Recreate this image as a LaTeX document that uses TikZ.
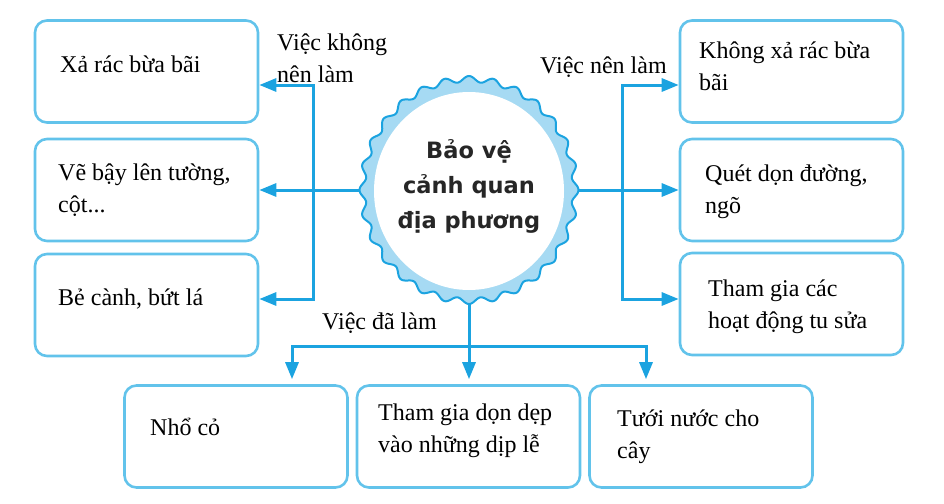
\documentclass[tikz,border=0pt]{standalone}
\usepackage{fontspec}
\setmainfont{Liberation Serif}
\newfontfamily\circfont{DejaVu Sans}
\usetikzlibrary{arrows.meta}
\definecolor{boxblue}{HTML}{62C3EB}
\definecolor{arrblue}{HTML}{1BA3E0}
\definecolor{bandblue}{HTML}{A6DAF3}
\tikzset{
  box/.style={draw=boxblue, line width=2.6pt, rounded corners=12pt, minimum width=223pt, minimum height=102pt, fill=white, inner sep=0pt},
  txt/.style={anchor=base west, align=left, font=\fontsize{24}{32}\selectfont, inner sep=0pt},
  ctxt/.style={anchor=base, align=center, font=\circfont\bfseries\fontsize{22.5}{35}\selectfont, text=black!85, inner sep=0pt},
  conn/.style={draw=arrblue, line width=3pt},
  tip/.tip={Triangle[length=17pt,width=13pt]},
  arr/.style={conn, -tip},
  arrtwo/.style={conn, tip-tip},
}
\begin{document}
\begin{tikzpicture}[x=1pt,y=-1pt]
\useasboundingbox (0,0) rectangle (944,503);
% boxes
\node[box] (L1) at (146.5,71.5) {};
\node[box] (L2) at (146.5,190) {};
\node[box] (L3) at (146.5,305) {};
\node[box] (R1) at (791.5,71.5) {};
\node[box] (R2) at (791.5,190) {};
\node[box] (R3) at (791.5,304) {};
\node[box] (B1) at (236,436.5) {};
\node[box] (B2) at (468.5,436.5) {};
\node[box] (B3) at (701,436.5) {};
% centre node (geometry only)
\node[circle, minimum size=212pt, inner sep=0pt] (C) at (469,190) {};
\coordinate (Cs) at (469,302);
% connector coordinates
\coordinate (LT) at (313,85);
\coordinate (LB) at (313,299);
\coordinate (RT) at (622,85);
\coordinate (RB) at (622,299);
\coordinate (BL) at (292,346);
\coordinate (BR) at (646,346);
% label background
\node[fill=white, minimum width=148pt, minimum height=47pt, inner sep=0pt] (LBLbg) at (379,321.5) {};
% connectors
\draw[arrtwo] (LT -| L1.east) -- (LT) -- (LB) -- (LB -| L3.east);
\draw[arr] (C.west) -- (C.west -| L2.east);
\draw[arrtwo] (RT -| R1.west) -- (RT) -- (RB) -- (RB -| R3.west);
\draw[arr] (C.east) -- (C.east -| R2.west);
\draw[arrtwo, shorten <=5pt, shorten >=5pt] (BL |- B1.north) -- (BL) -- (BR) -- (BR |- B3.north);
\draw[arr, shorten >=5pt] (Cs) -- (Cs |- B2.north);
% scalloped circle
\draw[fill=bandblue, draw=arrblue, line width=2pt]
  plot[domain=0:360, samples=841, smooth] ({469+(106.5+3*cos(28*\x))*cos(\x)}, {190+(111+3*cos(28*\x))*sin(\x)}) -- cycle;
\fill[white] (469,191) ellipse[x radius=95pt, y radius=99pt];
% centre text
\node[ctxt] (CT) at (469,228) {Bảo vệ\\cảnh quan\\địa phương};
% box texts
\node[txt] (tL1) at (60,72) {Xả rác bừa bãi};
\node[txt] (tL2) at (58,212) {Vẽ bậy lên tường,\\cột...};
\node[txt] (tL3) at (58,305) {Bẻ cành, bứt lá};
\node[txt] (tR1) at (699,90) {Không xả rác bừa\\bãi};
\node[txt] (tR2) at (705,213) {Quét dọn đường,\\ngõ};
\node[txt] (tR3) at (708,328) {Tham gia các\\hoạt động tu sửa};
\node[txt] (tB1) at (150,435) {Nhổ cỏ};
\node[txt] (tB2) at (378,452) {Tham gia dọn dẹp\\vào những dịp lễ};
\node[txt] (tB3) at (617,458) {Tưới nước cho\\cây};
% connector labels
\node[txt] (lab1) at (277,82) {Việc không\\nên làm};
\node[txt] (lab2) at (540,74) {Việc nên làm};
\node[txt] (lab3) at (322,329) {Việc đã làm};
\end{tikzpicture}
\end{document}
